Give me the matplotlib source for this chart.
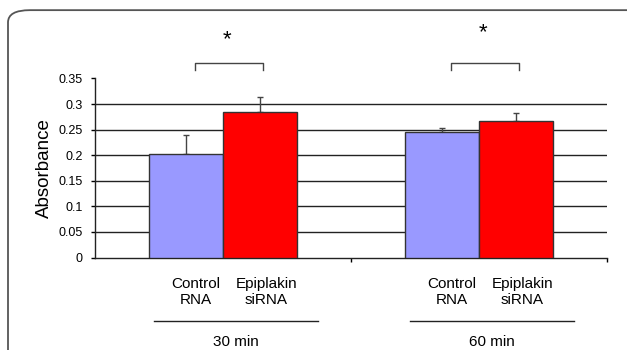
import numpy as np
import matplotlib.pyplot as plt
from matplotlib.patches import FancyBboxPatch

plt.rcParams['font.family'] = ['Liberation Sans', 'DejaVu Sans']

# data
times = ["30 min", "60 min"]
groups = ["Control\nRNA", "Epiplakin\nsiRNA"]
control = [0.202, 0.245]
control_err = [0.038, 0.009]
epiplakin = [0.285, 0.267]
epiplakin_err = [0.028, 0.015]
yticks = [0, 0.05, 0.1, 0.15, 0.2, 0.25, 0.3, 0.35]
ytick_labels = ["0", "0.05", "0.1", "0.15", "0.2", "0.25", "0.3", "0.35"]

fig = plt.figure(figsize=(6.27, 3.5), dpi=100)

# rounded frame around the panel
frame = FancyBboxPatch((8 / 627, -0.2), 1.2, 0.971 + 0.2,
                       boxstyle="round,pad=0,rounding_size=0.035",
                       transform=fig.transFigure, facecolor="white",
                       edgecolor="#555555", linewidth=1.3, zorder=-10)
fig.patches.append(frame)

ax = fig.add_axes([95 / 627, 92.5 / 350, 512 / 627, 179 / 350])
ax.set_facecolor("none")

x = np.arange(len(times))
w = 0.29
ax.bar(x - w / 2, control, w, color="#9999FF", edgecolor="#333333", linewidth=1, zorder=3)
ax.bar(x + w / 2, epiplakin, w, color="#FF0000", edgecolor="#333333", linewidth=1, zorder=3)
ax.errorbar(x - w / 2, control, yerr=[np.zeros(2), control_err], fmt="none",
            ecolor="#444444", elinewidth=1, capsize=2.5, capthick=1, zorder=2)
ax.errorbar(x + w / 2, epiplakin, yerr=[np.zeros(2), epiplakin_err], fmt="none",
            ecolor="#444444", elinewidth=1, capsize=2.5, capthick=1, zorder=2)

# horizontal gridlines
for t in yticks[1:-1]:
    ax.axhline(t, color="#222222", linewidth=1, zorder=1)

ax.set_xlim(-0.5, 1.5)
ax.set_ylim(0, 0.35)
ax.set_yticks(yticks)
ax.set_yticklabels(ytick_labels, fontsize=9)
ax.set_xticks([0.5, 1.5])
ax.set_xticklabels([])
ax.tick_params(axis="y", length=3, width=1, direction="out", pad=6)
ax.tick_params(axis="x", length=3, width=1, direction="out")
for s in ["top", "right"]:
    ax.spines[s].set_visible(False)
for s in ["left", "bottom"]:
    ax.spines[s].set_color("#222222")
    ax.spines[s].set_linewidth(1)

ax.set_ylabel("Absorbance", fontsize=13.5, labelpad=4)

# group labels below axis
for i, t in enumerate(times):
    ax.text(i - 0.105, -0.067, groups[0], ha="center", va="center",
            fontsize=11, linespacing=1.15, clip_on=False)
    ax.text(i + 0.17, -0.067, groups[1], ha="center", va="center",
            fontsize=11, linespacing=1.15, clip_on=False)
    ax.plot([i - 0.27, i + 0.37], [-0.124, -0.124], color="#222222",
            linewidth=1, clip_on=False)
    ax.text(i + 0.05, -0.166, t, ha="center", va="center", fontsize=11,
            clip_on=False)
    # significance bracket
    ax.plot([i - 0.11, i - 0.11, i + 0.155, i + 0.155],
            [0.366, 0.380, 0.380, 0.366], color="#444444", linewidth=1,
            clip_on=False)
    ax.text(i + 0.015, 0.425 + 0.014 * i, "*", ha="center", va="center",
            fontsize=16, clip_on=False)

fig.savefig("out.png", dpi=100)
